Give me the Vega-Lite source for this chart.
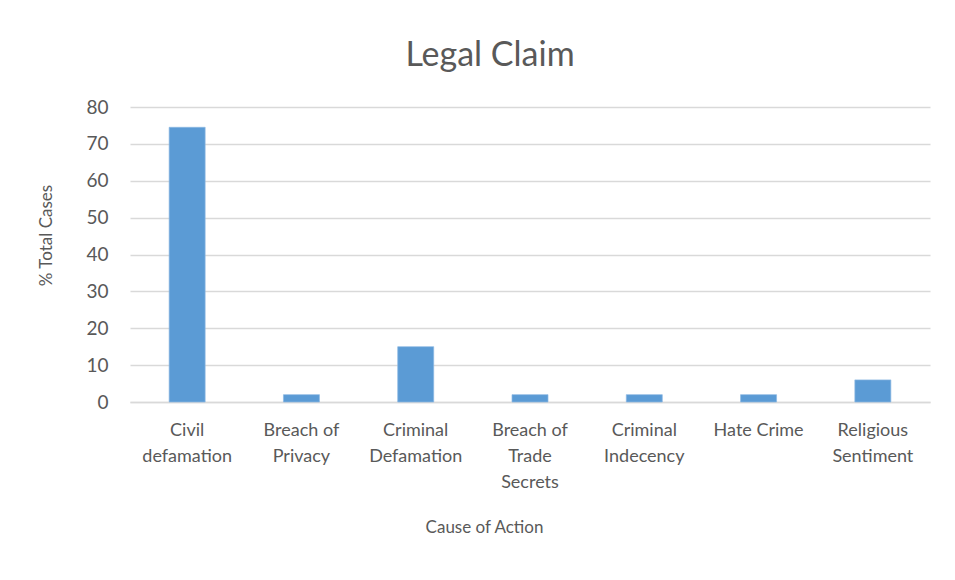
{
  "$schema": "https://vega.github.io/schema/vega-lite/v6.json",
  "autosize": "none",
  "width": 800,
  "height": 295,
  "padding": {"left": 130, "top": 107, "right": 25, "bottom": 178},
  "background": "white",
  "title": {
    "text": "Legal Claim",
    "fontSize": 34,
    "font": "Lato",
    "fontWeight": "normal",
    "color": "#595959",
    "anchor": "middle",
    "dx": -40,
    "offset": 25
  },
  "data": {
    "values": [
      {"cause": "Civil defamation", "pct": 74.5},
      {"cause": "Breach of Privacy", "pct": 2},
      {"cause": "Criminal Defamation", "pct": 15},
      {"cause": "Breach of Trade Secrets", "pct": 2},
      {"cause": "Criminal Indecency", "pct": 2},
      {"cause": "Hate Crime", "pct": 2},
      {"cause": "Religious Sentiment", "pct": 6}
    ]
  },
  "mark": {"type": "bar", "color": "#5B9BD5", "width": 36, "stroke": "#8DB8E3", "strokeWidth": 0.7},
  "encoding": {
    "x": {
      "field": "cause",
      "type": "nominal",
      "sort": null,
      "title": "Cause of Action",
      "axis": {
        "labelAngle": 0,
        "labelFont": "Lato",
        "labelFontSize": 18,
        "labelColor": "#595959",
        "labelPadding": 19,
        "labelLineHeight": 26,
        "labelBaseline": "top",
        "labelExpr": "datum.value == 'Civil defamation' ? ['Civil','defamation'] : datum.value == 'Breach of Privacy' ? ['Breach of','Privacy'] : datum.value == 'Criminal Defamation' ? ['Criminal','Defamation'] : datum.value == 'Breach of Trade Secrets' ? ['Breach of','Trade','Secrets'] : datum.value == 'Criminal Indecency' ? ['Criminal','Indecency'] : datum.value == 'Religious Sentiment' ? ['Religious','Sentiment'] : datum.value",
        "ticks": false,
        "domain": true,
        "domainColor": "#D9D9D9",
        "domainWidth": 1.5,
        "titleFont": "Lato",
        "titleFontSize": 17,
        "titleFontWeight": "normal",
        "titleColor": "#595959",
        "titleX": 354,
        "titleY": 125,
        "titleBaseline": "middle"
      }
    },
    "y": {
      "field": "pct",
      "type": "quantitative",
      "title": "% Total Cases",
      "scale": {"domain": [0, 80]},
      "axis": {
        "values": [0, 10, 20, 30, 40, 50, 60, 70, 80],
        "labelFont": "Lato",
        "labelFontSize": 19,
        "labelColor": "#595959",
        "labelPadding": 22,
        "ticks": false,
        "domain": false,
        "grid": true,
        "gridColor": "#D9D9D9",
        "gridWidth": 1.5,
        "titleFont": "Lato",
        "titleFontSize": 17,
        "titleFontWeight": "normal",
        "titleColor": "#595959",
        "titleX": -84,
        "titleY": 128,
        "titleBaseline": "middle"
      }
    }
  },
  "config": {
    "view": {"stroke": null},
    "scale": {"bandPaddingInner": 0.2, "bandPaddingOuter": 0.1}
  }
}
